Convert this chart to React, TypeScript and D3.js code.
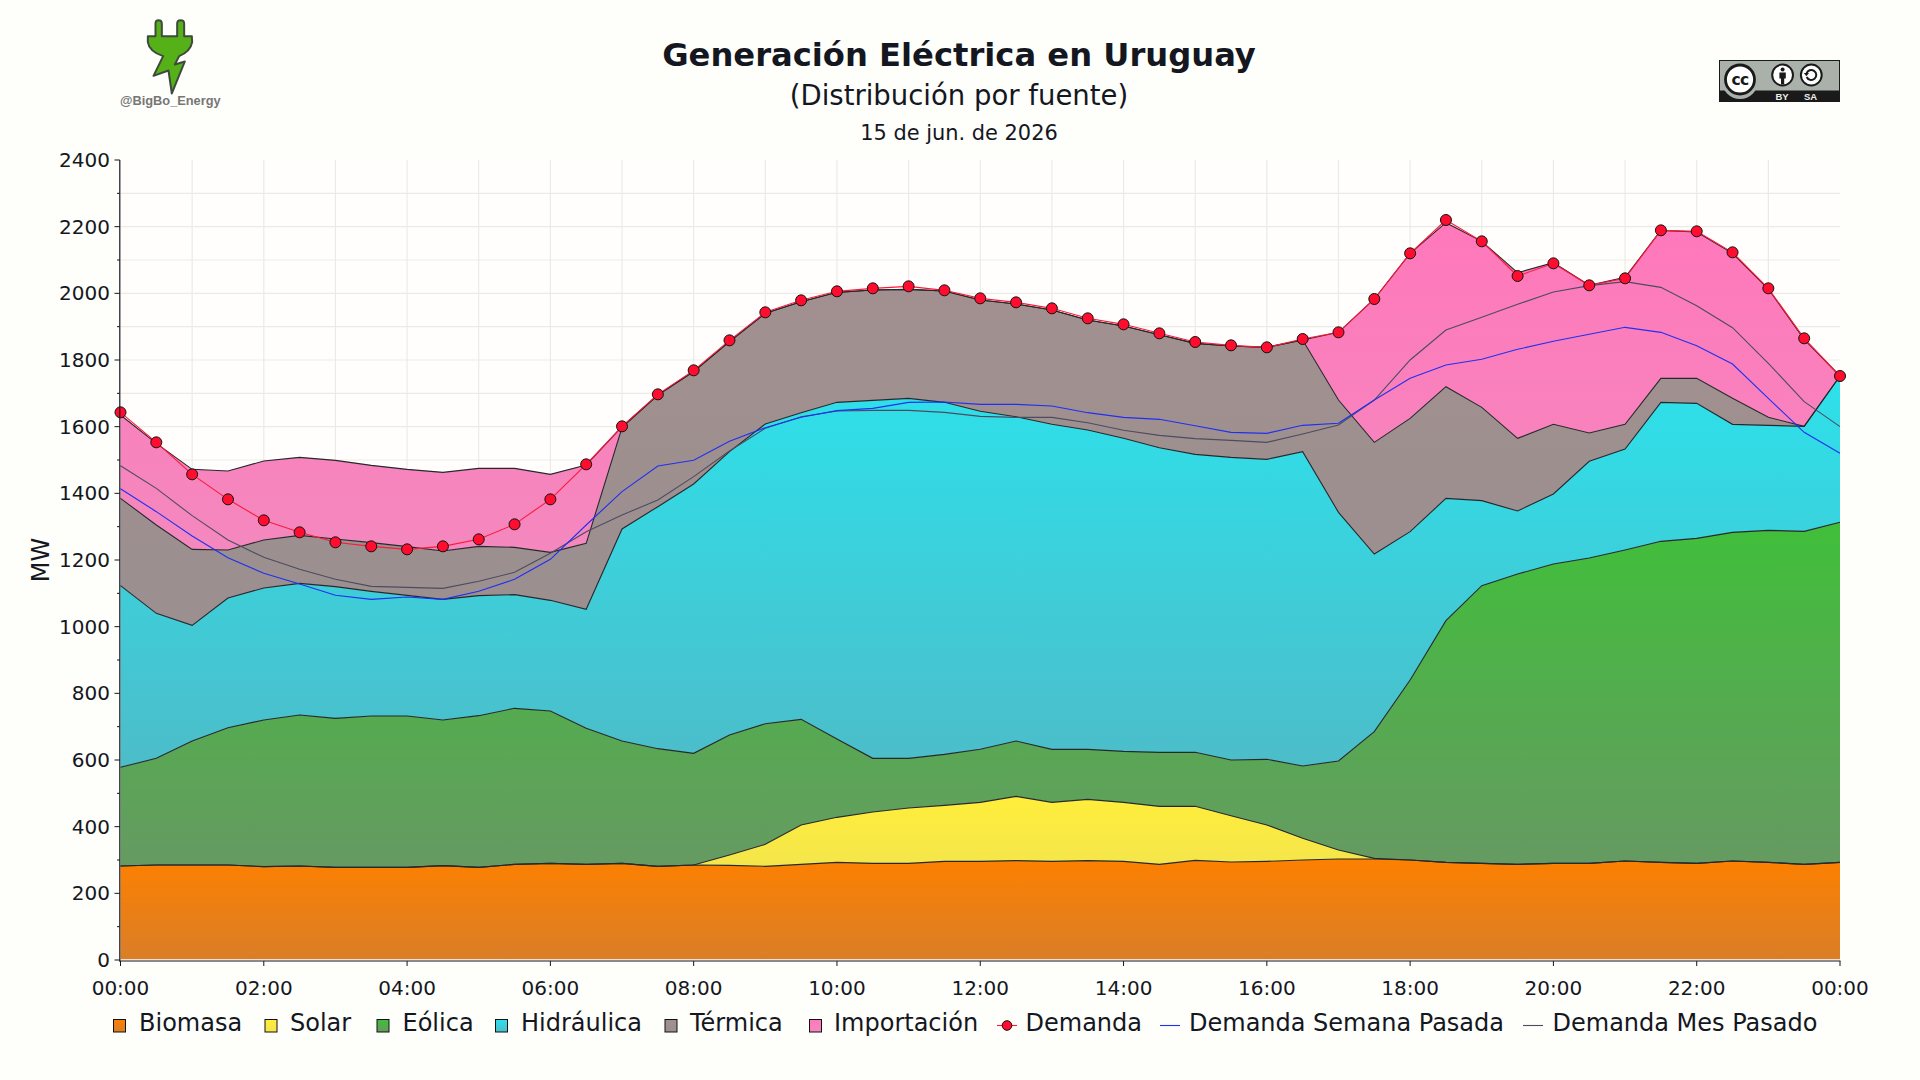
import React from "react";
import * as d3 from "d3";

const hours = d3.range(0, 24.5, 0.5);
const xTickHours = d3.range(0, 25, 2);
const xTickLabels = ["00:00","02:00","04:00","06:00","08:00","10:00","12:00","14:00","16:00","18:00","20:00","22:00","00:00"];
const yTicks = d3.range(0, 2600, 200);
const yMinor = d3.range(0, 2500, 100);
const xGrid = d3.range(1, 24, 1);

const biomasa = [282,285,285,285,280,282,278,278,278,283,278,287,290,287,290,281,285,284,281,287,293,290,290,296,296,298,296,298,296,287,299,294,296,300,303,303,300,293,290,287,290,290,297,293,290,297,293,287,293];
const solar = [0,0,0,0,0,0,0,0,0,0,0,0,0,0,0,0,0,31,66,118,135,154,166,168,177,193,177,184,177,174,162,139,109,65,27,2,0,0,0,0,0,0,0,0,0,0,0,0,0];
const eolica = [296,320,372,412,440,453,447,454,454,437,455,468,457,408,367,353,335,360,362,317,235,161,149,153,159,166,159,150,153,162,162,167,197,217,267,380,540,725,833,871,898,916,933,963,975,986,996,999,1020];
const hidraulica = [545,435,347,389,396,395,395,374,362,362,360,341,332,357,636,726,808,850,899,920,1010,1074,1080,1056,1014,973,975,958,939,914,894,908,900,943,746,533,445,367,255,189,210,290,303,417,405,324,315,315,439];
const termica = [262,265,228,144,144,144,143,146,146,145,148,142,144,198,304,335,337,330,332,333,330,331,327,334,334,338,343,330,337,339,333,334,336,335,337,335,340,335,280,218,209,85,74,72,75,78,24,0,0];
const importacion = [250,245,240,237,237,234,236,232,232,236,234,237,234,235,3,0,0,0,0,0,0,0,0,0,0,0,0,0,0,0,0,0,0,0,203,430,495,492,498,497,485,443,441,444,439,435,385,261,0];
const demanda = [1643,1553,1457,1382,1319,1283,1253,1241,1232,1241,1262,1307,1382,1487,1601,1697,1769,1859,1943,1979,2006,2015,2021,2009,1985,1973,1955,1925,1907,1880,1854,1844,1838,1863,1883,1983,2120,2220,2156,2052,2090,2024,2045,2189,2186,2123,2015,1865,1752];
const semanaPasada = [1414,1345,1272,1207,1160,1128,1094,1082,1089,1082,1106,1142,1202,1305,1405,1482,1499,1556,1597,1628,1648,1655,1673,1674,1667,1667,1662,1642,1628,1622,1603,1583,1580,1604,1610,1680,1745,1785,1802,1832,1856,1877,1898,1883,1843,1788,1685,1583,1520];
const mesPasado = [1483,1415,1333,1260,1208,1172,1142,1121,1118,1115,1136,1163,1220,1285,1335,1380,1450,1527,1595,1630,1647,1649,1649,1643,1631,1628,1628,1612,1589,1574,1564,1559,1553,1578,1605,1680,1800,1890,1928,1967,2004,2023,2035,2018,1963,1897,1790,1675,1600];

const seriesNames = ["Biomasa","Solar","Eólica","Hidráulica","Térmica","Importación"];
const seriesValues = [biomasa, solar, eolica, hidraulica, termica, importacion];
const seriesTop = ["#fd8000","#ffee3a","#40bf3a","#2de1eb","#a29090","#ff78bb"];
const seriesBottom = ["#d97e28","#f4e54c","#669a62","#4cbdc9","#9b8f8f","#f488be"];
const legendSwatchX = [113.5, 265, 377, 495.5, 665, 809.5];
const legendTextX = [139, 290, 402.5, 521, 690, 834];

const FONT = "'DejaVu Sans', sans-serif";
const INK = "#14171f";
const PAGE = "#fefefa";
const LEGEND_SIZE = 24;
const TICK_SIZE = 20;

const x = d3.scaleLinear().domain([0, 24]).range([120.5, 1840]);
const y = d3.scaleLinear().domain([0, 2400]).range([960, 160]);

const rows = hours.map((h, i) => {
  const row: Record<string, number> = { h };
  seriesNames.forEach((n, s) => { row[n] = seriesValues[s][i]; });
  return row;
});
const stacked = d3.stack<Record<string, number>>().keys(seriesNames)(rows);

const area = d3.area<any>().x((d) => x(d.data.h)).y0((d) => y(d[0])).y1((d) => y(d[1]));
const topLine = d3.line<any>().x((d) => x(d.data.h)).y((d) => y(d[1]));
const valueLine = (vals: number[]) => d3.line<number>().x((_, i) => x(hours[i])).y((d) => y(d))(vals) as string;

function Logo() {
  return (
    <g>
      <g transform="translate(140.5,15.5) scale(0.3333)">
        <path
          d="M45,62 L45,24 Q45,14 54,14 Q64,14 64,24 L64,62 L110,62 L110,24 Q110,14 120,14 Q131,14 131,24 L131,62 L154,62 L155,80 Q150,108 116,122 L103,147 L133,138 L94,234 L84,165 L39,181 L68,122 Q26,108 22,80 L22,62 Z"
          fill="#56b118" stroke="#3f4a3f" strokeWidth={6} strokeLinejoin="round"
        />
      </g>
      <text x={120} y={105} fontFamily="'Liberation Sans', Arial, sans-serif" fontWeight="bold" fontSize={12.8} fill="#767676">@BigBo_Energy</text>
    </g>
  );
}

function CcBadge() {
  return (
    <g>
      <rect x={1719.5} y={60.5} width={120} height={41} fill="#aab1aa" stroke="#1a1a1a" strokeWidth={1} />
      <rect x={1719} y={90.5} width={121} height={11.5} fill="#1a1a1a" />
      <circle cx={1740} cy={81} r={18} fill="#aab1aa" />
      <circle cx={1740} cy={79.5} r={14.5} fill="#fff" stroke="#1a1a1a" strokeWidth={2.8} />
      <text x={1740} y={85} textAnchor="middle" fontFamily={FONT} fontWeight="bold" fontSize={15.5} fill="#1a1a1a" letterSpacing={-0.8}>cc</text>
      <circle cx={1782.6} cy={75} r={10.4} fill="#fff" stroke="#1a1a1a" strokeWidth={2} />
      <circle cx={1782.6} cy={69.4} r={2} fill="#1a1a1a" />
      <path d="M1779.4,72.4 h6.4 v6.2 h-1.6 v5.8 h-3.2 v-5.8 h-1.6 Z" fill="#1a1a1a" />
      <circle cx={1811.3} cy={75} r={10.4} fill="#fff" stroke="#1a1a1a" strokeWidth={2} />
      <path d="M1806.5,73.5 A5,5 0 1 1 1806.7,77" fill="none" stroke="#1a1a1a" strokeWidth={2} />
      <path d="M1803.8,73 L1809,73 L1806.4,76.2 Z" fill="#1a1a1a" />
      <text x={1782} y={99.5} textAnchor="middle" fontFamily="'Liberation Sans', Arial, sans-serif" fontWeight="bold" fontSize={9.5} fill="#eee">BY</text>
      <text x={1810.5} y={99.5} textAnchor="middle" fontFamily="'Liberation Sans', Arial, sans-serif" fontWeight="bold" fontSize={9.5} fill="#eee">SA</text>
    </g>
  );
}

export default function App() {
  return (
    <svg width={1920} height={1080} viewBox="0 0 1920 1080" style={{ position: "fixed", left: 0, top: 0, display: "block" }}>
      <defs>
        {seriesNames.map((n, i) => (
          <linearGradient key={n} id={`g${i}`} x1="0" y1="0" x2="0" y2="1">
            <stop offset="0" stopColor={seriesTop[i]} />
            <stop offset="1" stopColor={seriesBottom[i]} />
          </linearGradient>
        ))}
      </defs>
      <rect width={1920} height={1080} fill={PAGE} />
      <rect x={x(0)} y={y(2400)} width={x(24) - x(0)} height={y(0) - y(2400)} fill="#fffefd" />

      {yMinor.filter((v) => v > 0 && v < 2400).map((v) => (
        <line key={`gy${v}`} x1={x(0)} x2={x(24)} y1={y(v)} y2={y(v)} stroke="#ebebe5" strokeWidth={1.2} />
      ))}
      {xGrid.map((h) => (
        <line key={`gx${h}`} x1={x(h)} x2={x(h)} y1={y(0)} y2={y(2400)} stroke="#ebebe5" strokeWidth={1.2} />
      ))}

      {stacked.map((s, i) => (
        <path key={`a${i}`} d={area(s as any) as string} fill={`url(#g${i})`} />
      ))}
      <line x1={x(0)} x2={x(24)} y1={960} y2={960} stroke="#fff" strokeWidth={1.4} />
      {stacked.map((s, i) => (
        <path key={`t${i}`} d={topLine(s as any) as string} fill="none" stroke="#26282c" strokeWidth={1.1} />
      ))}

      <path d={valueLine(mesPasado)} fill="none" stroke="#4c4c60" strokeWidth={1.1} />
      <path d={valueLine(semanaPasada)} fill="none" stroke="#2030f0" strokeWidth={1.1} />
      <path d={valueLine(demanda)} fill="none" stroke="#ff1838" strokeWidth={1.1} />
      {demanda.map((v, i) => (
        <circle key={`m${i}`} cx={x(hours[i])} cy={y(v)} r={5.5} fill="#ff0c2e" stroke="#111" strokeWidth={1} />
      ))}

      <line x1={119.8} x2={119.8} y1={160} y2={961.5} stroke="#14171f" strokeWidth={1.2} />
      <line x1={119.2} x2={1840.5} y1={961} y2={961} stroke="#14171f" strokeWidth={1.2} />
      {yMinor.map((v) => (
        <line key={`ty${v}`} x1={v % 200 === 0 ? 114.5 : 117} x2={119.8} y1={y(v)} y2={y(v)} stroke="#14171f" strokeWidth={1} />
      ))}
      {yTicks.map((v) => (
        <text key={`ly${v}`} x={110} y={y(v) + 7} textAnchor="end" fontFamily={FONT} fontSize={TICK_SIZE} fill={INK}>{v}</text>
      ))}
      {xTickHours.map((h, i) => (
        <g key={`tx${i}`}>
          <line x1={x(h)} x2={x(h)} y1={961} y2={966} stroke="#14171f" strokeWidth={1} />
          <text x={x(h)} y={995} textAnchor="middle" fontFamily={FONT} fontSize={TICK_SIZE} fill={INK}>{xTickLabels[i]}</text>
        </g>
      ))}
      <text transform="translate(49,560) rotate(-90)" textAnchor="middle" fontFamily={FONT} fontSize={24} fill={INK}>MW</text>

      <text x={959} y={66} textAnchor="middle" fontFamily={FONT} fontWeight="bold" fontSize={32.2} fill={INK}>Generación Eléctrica en Uruguay</text>
      <text x={959} y={105} textAnchor="middle" fontFamily={FONT} fontSize={27.5} fill={INK}>(Distribución por fuente)</text>
      <text x={959} y={139.5} textAnchor="middle" fontFamily={FONT} fontSize={20.9} fill={INK}>15 de jun. de 2026</text>

      {seriesNames.map((n, i) => (
        <g key={`lg${i}`}>
          <rect x={legendSwatchX[i]} y={1019.5} width={12} height={12.5} fill={`url(#g${i})`} stroke="#111" strokeWidth={1} />
          <text x={legendTextX[i]} y={1031} fontFamily={FONT} fontSize={LEGEND_SIZE} fill={INK}>{n}</text>
        </g>
      ))}
      <line x1={997} x2={1017} y1={1025.5} y2={1025.5} stroke="#ff1838" strokeWidth={1.1} />
      <circle cx={1007} cy={1025.5} r={4.8} fill="#ff0c2e" stroke="#111" strokeWidth={1} />
      <text x={1025.5} y={1031} fontFamily={FONT} fontSize={LEGEND_SIZE} fill={INK}>Demanda</text>
      <line x1={1160} x2={1180} y1={1025.5} y2={1025.5} stroke="#2030f0" strokeWidth={1.1} />
      <text x={1189} y={1031} fontFamily={FONT} fontSize={LEGEND_SIZE} fill={INK}>Demanda Semana Pasada</text>
      <line x1={1523} x2={1543} y1={1025.5} y2={1025.5} stroke="#4c4c60" strokeWidth={1.1} />
      <text x={1552.5} y={1031} fontFamily={FONT} fontSize={LEGEND_SIZE} fill={INK}>Demanda Mes Pasado</text>

      <Logo />
      <CcBadge />
    </svg>
  );
}
